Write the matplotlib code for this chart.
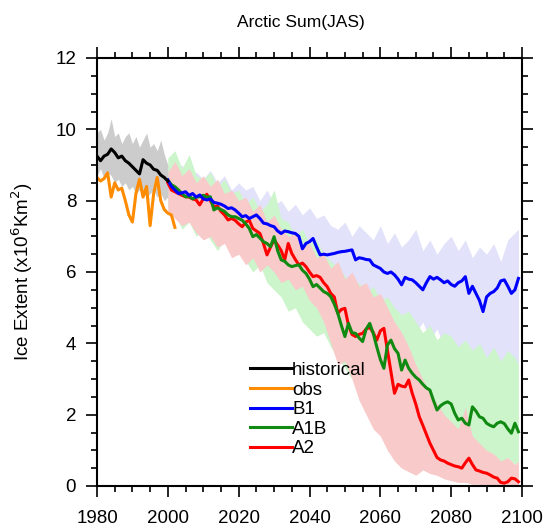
import numpy as np
import matplotlib
matplotlib.use("Agg")
import matplotlib.pyplot as plt
from matplotlib.ticker import MultipleLocator
from matplotlib.lines import Line2D

plt.rcParams['font.family'] = ['Liberation Sans', 'DejaVu Sans']

# ---- data ----
hist_years = np.arange(1980, 2001)
hist_mean = [9.25, 9.12, 9.25, 9.3, 9.45, 9.35, 9.2, 9.25, 9.12, 9.05,
             8.95, 8.85, 8.75, 9.15, 9.05, 9.0, 8.88, 8.85, 8.72, 8.65, 8.55]
hist_hi = [9.9, 10.0, 9.7, 9.9, 10.3, 9.8, 9.9, 9.6, 9.8, 9.9,
           9.6, 9.8, 9.5, 9.7, 9.9, 9.5, 9.6, 9.4, 9.7, 9.3, 9.0]
hist_lo = [8.7, 8.9, 8.6, 8.8, 8.7, 8.5, 8.6, 8.4, 8.5, 8.3,
           8.4, 8.2, 8.3, 8.2, 8.1, 8.2, 8.3, 8.1, 8.2, 8.0, 8.1]

obs_years = np.arange(1980, 2003)
obs = [8.65, 8.55, 8.62, 8.78, 8.1, 8.5, 8.3, 8.35, 8.0, 7.6,
       7.4, 8.2, 8.6, 8.1, 8.4, 7.3, 8.2, 8.65, 8.0, 7.75,
       7.65, 7.6, 7.25]

proj_years = np.arange(2000, 2100)
b1 = [8.58, 8.4, 8.3, 8.2, 8.22, 8.25, 8.15, 8.2, 8.1, 8.16,
      8.05, 8.02, 8.05, 7.95, 7.93, 7.9, 7.85, 7.78, 7.8, 7.74,
      7.65, 7.55, 7.58, 7.5, 7.55, 7.6, 7.5, 7.37, 7.35, 7.3,
      7.27, 7.15, 7.08, 7.15, 7.13, 7.1, 7.08, 7.0, 6.65, 6.8,
      6.85, 6.94, 6.7, 6.48, 6.5, 6.48, 6.5, 6.52, 6.55, 6.57,
      6.58, 6.6, 6.62, 6.34, 6.4, 6.38, 6.35, 6.34, 6.2, 6.15,
      6.1, 6.0, 5.96, 6.0, 5.92, 5.8, 5.64, 5.85, 5.8, 5.78,
      5.7, 5.6, 5.5, 5.7, 5.87, 5.8, 5.85, 5.78, 5.7, 5.75,
      5.65, 5.6, 5.7, 5.75, 5.87, 5.4, 5.6, 5.4, 5.2, 4.89,
      5.3, 5.4, 5.45, 5.55, 5.75, 5.78, 5.6, 5.4, 5.5, 5.82]
a1b = [8.58, 8.45, 8.39, 8.3, 8.2, 8.11, 8.12, 8.05, 8.1, 8.11,
       8.15, 8.1, 8.11, 7.74, 7.8, 7.75, 7.7, 7.6, 7.55, 7.55,
       7.5, 7.45, 7.35, 7.22, 6.99, 7.05, 6.95, 6.85, 6.8, 6.71,
       6.99, 6.6, 6.34, 6.3, 6.2, 6.15, 6.18, 6.2, 6.05, 5.96,
       5.8, 5.59, 5.65, 5.55, 5.45, 5.4, 5.31, 5.1, 4.84, 4.5,
       4.19, 4.56, 4.3, 4.28, 4.15, 4.05, 4.4, 4.56, 4.28, 3.9,
       3.55, 3.3, 3.95, 4.09, 3.85, 3.72, 3.25, 3.53, 3.3, 3.16,
       3.05, 2.97, 2.85, 2.75, 2.69, 2.4, 2.13, 2.25, 2.32, 2.36,
       2.3, 2.04, 1.85, 1.9, 1.76, 1.71, 2.22, 2.1, 1.94, 1.9,
       1.76, 1.7, 1.66, 1.76, 1.8, 1.75, 1.6, 1.48, 1.76, 1.52]
a2 = [8.5, 8.3, 8.25, 8.2, 8.15, 8.11, 8.1, 8.05, 8.02, 7.88,
      8.05, 8.18, 8.0, 7.83, 7.85, 7.7, 7.6, 7.46, 7.5, 7.45,
      7.35, 7.27, 7.4, 7.45, 7.22, 7.15, 7.08, 6.8, 6.48, 6.7,
      6.9, 6.76, 6.6, 6.34, 6.8, 6.52, 6.35, 6.2, 6.25, 6.15,
      6.0, 5.87, 5.9, 5.85, 5.7, 5.59, 5.4, 5.3, 4.84, 4.95,
      4.98, 4.51, 4.25, 4.19, 4.25, 4.28, 4.4, 4.45, 4.3, 4.09,
      4.35, 4.42, 3.81, 3.2, 2.6, 2.85, 2.8, 2.78, 2.97, 2.6,
      2.3, 1.94, 1.7, 1.45, 1.2, 1.0, 0.8, 0.73, 0.7, 0.64,
      0.6, 0.56, 0.54, 0.5, 0.65, 0.78, 0.6, 0.45, 0.42, 0.38,
      0.36, 0.31, 0.25, 0.22, 0.1, 0.08, 0.12, 0.22, 0.2, 0.12]

env_years = list(range(2000, 2099, 2)) + [2099]
b1_hi = [9.0, 8.9, 9.0, 8.7, 8.8, 8.6, 8.85, 8.5, 8.7, 8.3,
         8.5, 8.3, 8.4, 8.0, 8.3, 7.9, 8.0, 7.7, 7.9, 7.6,
         7.8, 7.5, 7.6, 7.3, 7.2, 7.4, 7.0, 7.3, 7.1, 6.9,
         7.3, 6.8, 7.1, 6.7, 6.9, 7.2, 6.6, 6.9, 6.5, 6.8,
         7.0, 6.6, 6.9, 6.4, 6.7, 6.5, 6.8, 6.3, 6.9, 7.1, 7.2]
b1_lo = [8.0, 7.8, 7.9, 7.4, 7.6, 7.2, 7.5, 7.1, 7.3, 6.9,
         7.0, 6.7, 6.8, 6.3, 6.5, 6.1, 6.3, 5.8, 6.0, 5.6,
         5.8, 5.4, 5.6, 5.2, 5.4, 5.0, 5.3, 4.9, 5.1, 4.7,
         4.9, 4.5, 4.8, 4.4, 4.7, 4.3, 4.6, 4.1, 4.4, 3.9,
         4.2, 3.8, 4.1, 3.6, 3.9, 3.4, 3.7, 3.1, 3.3, 2.8, 3.5]
a1b_hi = [9.2, 9.4, 8.9, 9.3, 8.7, 8.6, 8.8, 8.4, 8.6, 8.2,
          8.3, 7.9, 8.1, 7.7, 7.9, 8.3, 7.5, 7.4, 7.0, 7.2,
          6.8, 6.9, 6.5, 6.3, 6.1, 5.9, 5.5, 5.7, 5.4, 5.6,
          5.2, 5.3, 5.0, 4.8, 4.9, 4.6, 4.3, 4.5, 4.1, 4.3,
          4.2, 3.9, 4.1, 3.8, 4.0, 3.6, 3.9, 3.5, 3.8, 3.6, 3.4]
a1b_lo = [7.8, 7.6, 7.2, 7.4, 7.0, 7.2, 6.9, 6.6, 6.9, 6.5,
          6.7, 6.3, 6.0, 6.2, 5.7, 5.5, 5.3, 4.9, 5.0, 4.6,
          4.4, 4.2, 4.3, 3.9, 3.6, 3.3, 3.0, 3.2, 2.8, 2.5,
          2.2, 2.4, 2.0, 1.8, 1.9, 1.5, 1.7, 1.3, 1.2, 0.9,
          1.0, 0.8, 0.9, 0.7, 0.8, 0.6, 0.7, 0.5, 0.8, 0.6, 0.7]
a2_hi = [8.8, 9.1, 8.7, 8.9, 8.5, 8.7, 8.4, 8.6, 8.2, 8.3,
         8.0, 8.1, 7.7, 7.9, 7.4, 7.6, 7.2, 7.0, 7.1, 6.7,
         6.8, 6.4, 6.5, 6.1, 6.3, 5.8, 6.0, 5.6, 5.7, 5.3,
         5.4, 5.0, 4.6, 4.3, 3.9, 3.4, 3.0, 2.6, 2.3, 2.0,
         1.8, 1.6, 2.2, 1.4, 1.2, 1.0, 0.9, 0.7, 0.8, 0.6, 0.7]
a2_lo = [7.7, 7.5, 7.3, 7.4, 7.1, 6.9, 7.0, 6.7, 6.8, 6.4,
         6.5, 6.2, 6.4, 6.0, 6.2, 6.0, 5.7, 5.8, 5.5, 5.6,
         5.2, 5.0, 4.6, 4.0, 3.4, 3.5, 3.0, 2.4, 2.0, 1.6,
         1.4, 1.0, 0.7, 0.5, 0.4, 0.3, 0.45, 0.35, 0.3, 0.2,
         0.15, 0.1, 0.1, 0.05, 0.05, 0.0, 0.0, 0.0, 0.0, 0.0, 0.0]

# ---- figure ----
fig = plt.figure(figsize=(5.45, 5.31), dpi=100)
ax = fig.add_axes([97/545, 1 - 486/531, 425/545, 428/531])

ax.fill_between(env_years, b1_lo, b1_hi, color='#e2e2fa', lw=0)
ax.fill_between(env_years, a1b_lo, a1b_hi, color='#ccf5cc', lw=0)
ax.fill_between(env_years, a2_lo, a2_hi, color='#f8caca', lw=0)
ax.fill_between(hist_years, hist_lo, hist_hi, color='#cccccc', lw=0)

lw = 2.2
ax.plot(obs_years, obs, color='#ff8c00', lw=lw)
ax.plot(proj_years, a2, color='#ff0000', lw=lw)
ax.plot(proj_years, a1b, color='#118a11', lw=lw)
ax.plot(proj_years, b1, color='#0000ff', lw=lw)
ax.plot(hist_years, hist_mean, color='black', lw=lw)

ax.set_xlim(1980, 2100)
ax.set_ylim(0, 12)
ax.xaxis.set_major_locator(MultipleLocator(20))
ax.xaxis.set_minor_locator(MultipleLocator(5))
ax.yaxis.set_major_locator(MultipleLocator(2))
ax.yaxis.set_minor_locator(MultipleLocator(0.5))
ax.tick_params(which='both', direction='out', top=True, right=True, width=1.2)
ax.tick_params(which='major', length=8, labelsize=13.5)
ax.tick_params(axis='y', which='major', pad=7)
ax.tick_params(axis='x', which='major', pad=9)
ax.tick_params(which='minor', length=4.5)
for s in ax.spines.values():
    s.set_linewidth(1.5)

# legend (NCL style: short line then label)
handles = [Line2D([], [], color='black', lw=lw),
           Line2D([], [], color='#ff8c00', lw=lw),
           Line2D([], [], color='#0000ff', lw=lw),
           Line2D([], [], color='#118a11', lw=lw),
           Line2D([], [], color='#ff0000', lw=lw)]
labels = ['historical', 'obs', 'B1', 'A1B', 'A2']
ax.legend(handles, labels, loc='upper left', bbox_to_anchor=(0.36, 0.29),
          frameon=False, fontsize=13.5, handlelength=2.25, handletextpad=0,
          labelspacing=0.13, borderpad=0, borderaxespad=0)

fig.text(301/545, 1 - 22/531, 'Arctic Sum(JAS)', ha='center', va='center', fontsize=12.5)
fig.text(22/545, 1 - 272/531, 'Ice Extent (x10$^6$Km$^2$)', ha='center', va='center',
         rotation=90, fontsize=13.5)

fig.savefig('out.png', dpi=100)
